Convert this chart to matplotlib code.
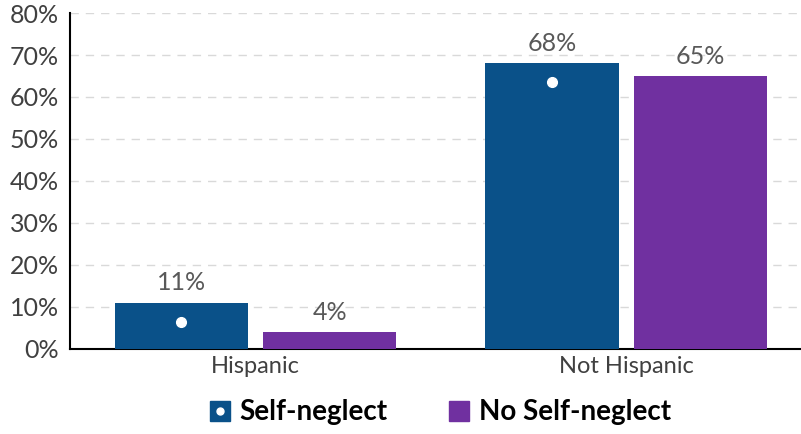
import matplotlib.pyplot as plt
import numpy as np
from matplotlib.lines import Line2D
from matplotlib.legend_handler import HandlerTuple

plt.rcParams['font.family'] = ['Lato', 'DejaVu Sans']

categories = ['Hispanic', 'Not Hispanic']
self_neglect = [11, 68]
no_self_neglect = [4, 65]
significant = [True, True]  # white dot marker on Self-neglect bars

blue = '#0A5189'
purple = '#7030A0'
grey = '#595959'

fig = plt.figure(figsize=(8.01, 4.34), dpi=100)
ax = fig.add_axes([0.0874, 0.196, 0.912, 0.774])

x = np.arange(len(categories))
w = 0.36
b1 = ax.bar(x - 0.2, self_neglect, w, color=blue, zorder=3)
b2 = ax.bar(x + 0.2, no_self_neglect, w, color=purple, zorder=3)

for bars, vals in [(b1, self_neglect), (b2, no_self_neglect)]:
    for rect, v in zip(bars, vals):
        ax.annotate(f'{v}%', (rect.get_x() + rect.get_width() / 2, v),
                    xytext=(0, 6), textcoords='offset points',
                    ha='center', va='bottom', fontsize=18, color=grey)

# significance dots, a bit under the bar top
for rect, v, s in zip(b1, self_neglect, significant):
    if s:
        ax.plot([rect.get_x() + rect.get_width() / 2], [v - 4.5], 'o',
                color='white', ms=7, zorder=4)

ax.set_ylim(0, 80)
ax.set_xlim(-0.5, 1.47)
ax.set_yticks(range(0, 81, 10))
ax.set_yticklabels([f'{t}%' for t in range(0, 81, 10)])
ax.set_xticks(x)
ax.set_xticklabels(categories)
ax.tick_params(axis='y', length=0, labelsize=18, labelcolor='#404040', pad=8)
ax.tick_params(axis='x', length=0, labelsize=17, labelcolor='#404040', pad=5)

ax.yaxis.grid(True, linestyle=(0, (6, 5)), color='#D9D9D9', linewidth=1, zorder=0)
ax.set_axisbelow(True)
for sp in ['top', 'right']:
    ax.spines[sp].set_visible(False)
ax.spines['left'].set_linewidth(1.5)
ax.spines['bottom'].set_linewidth(1.5)

h1 = (Line2D([], [], marker='s', color=blue, ms=14, ls=''),
      Line2D([], [], marker='o', color='white', ms=5, ls=''))
h2 = Line2D([], [], marker='s', color=purple, ms=14, ls='')
fig.legend([h1, h2], ['Self-neglect', 'No Self-neglect'],
           handler_map={tuple: HandlerTuple(ndivide=1, pad=0)},
           loc='center', bbox_to_anchor=(0.549, 0.05), ncol=2, frameon=False,
           prop={'weight': 'bold', 'size': 20}, handlelength=0.8,
           handletextpad=0.3, columnspacing=2.2)

fig.savefig('out.png', dpi=100)
